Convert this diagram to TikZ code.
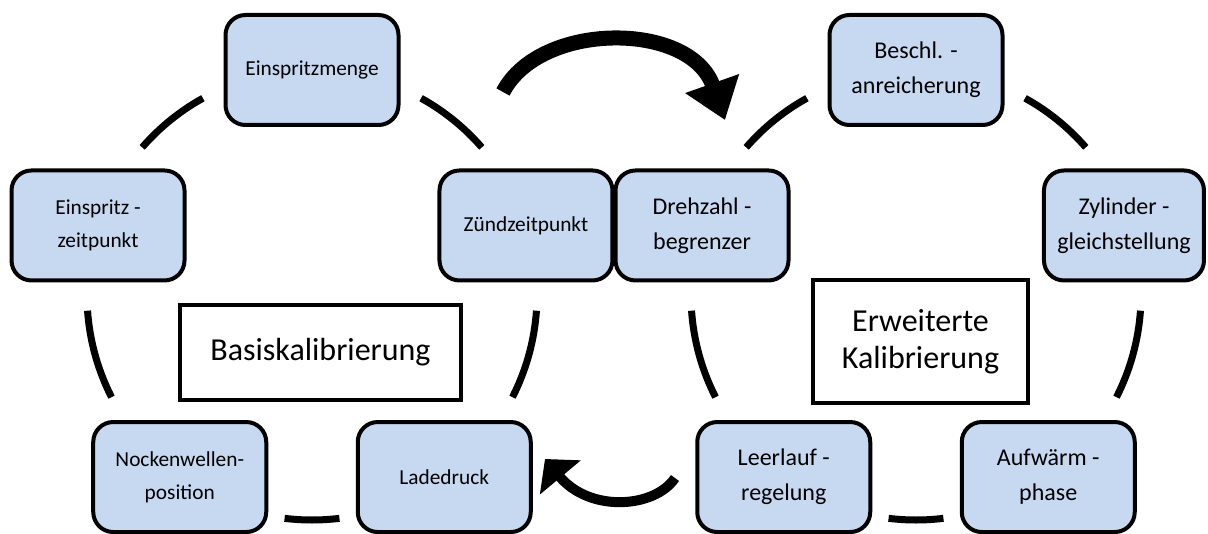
\documentclass[tikz,border=0pt]{standalone}
\usepackage{fontspec}
\setmainfont{Carlito}
\usepackage{tikz}
\usetikzlibrary{positioning,arrows.meta,calc}
\definecolor{boxfill}{HTML}{C6D9F1}
\tikzset{
  stage/.style={draw=black,line width=3pt,fill=boxfill,rounded corners=15pt,
    minimum width=129.75pt,minimum height=82.5pt,align=center,
    font=\fontsize{16}{24.75}\selectfont},
  stagebig/.style={stage,font=\fontsize{18}{26.25}\selectfont},
  phase/.style={draw=black,line width=3pt,fill=white,align=center,
    font=\fontsize{24}{27.75}\selectfont},
  ring/.style={line width=5.25pt},
}
\newcommand{\ringarcs}[1]{%
  \foreach \a/\b in {41/61,119/139,184/207,263/277,333/356}
    {\draw[ring] ($(#1)+(\a:225)$) arc[start angle=\a,end angle=\b,radius=225];}
}

\begin{document}
\begin{tikzpicture}[x=0.75pt,y=0.75pt]
  \useasboundingbox (0,0) rectangle (1208,533);

  \begin{scope}
    \coordinate (basis) at (312,238);
    \ringarcs{basis}
    \node[stage] (menge) at ($(basis)+(90:225)$) {Einspritzmenge};
    \node[stage] (zeit) at ($(basis)+(162:225)$) {Einspritz -\\zeitpunkt};
    \node[stage] (nocken) at ($(basis)+(234:225)$) {Nockenwellen-\\position};
    \node[stage] (lade) at ($(basis)+(306:225)$) {Ladedruck};
    \node[stage] (zuend) at ($(basis)+(18:225)$) {Zündzeitpunkt};
    \node[phase,minimum width=210.75pt,minimum height=71.25pt] (basislabel)
      at (320.5,180.5) {Basiskalibrierung};
  \end{scope}

  \begin{scope}[xshift=453pt]
    \coordinate (erw) at (312,238);
    \ringarcs{erw}
    \node[stagebig] (beschl) at ($(erw)+(90:225)$) {Beschl. -\\anreicherung};
    \node[stagebig] (drehzahl) at ($(erw)+(162:225)$) {Drehzahl -\\begrenzer};
    \node[stagebig] (leerlauf) at ($(erw)+(234:225)$) {Leerlauf -\\regelung};
    \node[stagebig] (aufwaerm) at ($(erw)+(306:225)$) {Aufwärm -\\phase};
    \node[stagebig,minimum width=120pt] (zylinder)
      at ($(erw)+(18:225)+(-6,0)$) {Zylinder -\\gleichstellung};
    \node[phase,minimum width=161.25pt,minimum height=92.25pt] (erwlabel)
      at (316.5,191.5) {Erweiterte\\Kalibrierung};
  \end{scope}

  \coordinate (tailtop) at (503,441);
  \coordinate (tiptop) at (725,413);
  \draw[line width=11.25pt,-{Triangle[length=29pt,width=41pt]}]
    (tailtop) .. controls (540,512) and (690,512) .. (tiptop);

  \coordinate (tailbot) at (675,55);
  \coordinate (tipbot) at (545,74);
  \draw[line width=7.5pt,-{Triangle[length=18pt,width=39pt]}]
    (tailbot) .. controls (655,25) and (590,20) .. (tipbot);
\end{tikzpicture}
\end{document}
